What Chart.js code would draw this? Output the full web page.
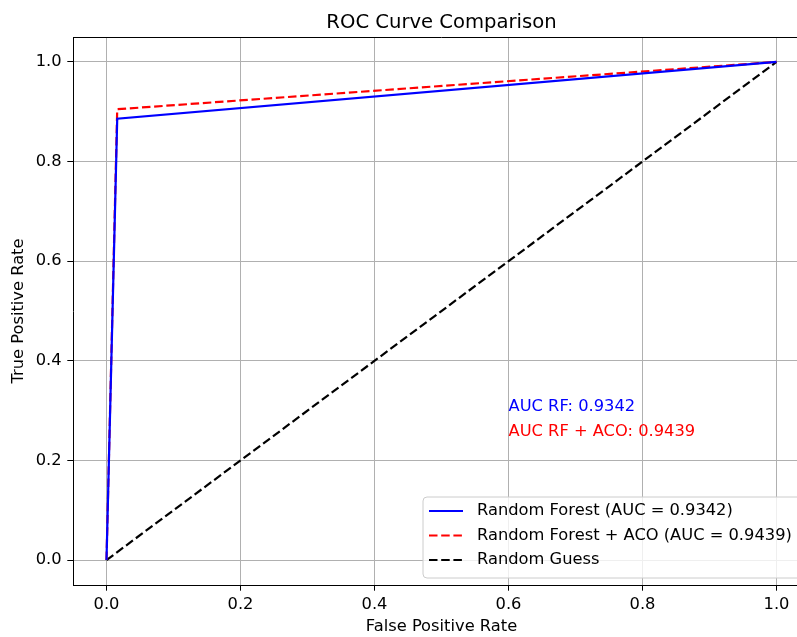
<!DOCTYPE html>
<html>
<head>
<meta charset="utf-8">
<script src="https://cdn.jsdelivr.net/npm/chart.js@4/dist/chart.umd.min.js"></script>
<style>
  html, body { margin: 0; padding: 0; overflow: hidden; background: #fff; }
  #wrap { width: 840px; height: 637px; }
</style>
</head>
<body>
<div id="wrap"><canvas id="roc"></canvas></div>
<script>
const fprRF = [0, 0.016, 1];
const tprRF = [0, 0.886, 1];
const fprACO = [0, 0.016, 1];
const tprACO = [0, 0.905, 1];
const fprGuess = [0, 1];
const tprGuess = [0, 1];
const tickVals = [0, 0.2, 0.4, 0.6, 0.8, 1.0];
const seriesNames = ['Random Forest (AUC = 0.9342)', 'Random Forest + ACO (AUC = 0.9439)', 'Random Guess'];
const noteTexts = ['AUC RF: 0.9342', 'AUC RF + ACO: 0.9439'];
const noteX = [0.6, 0.6];
const noteY = [0.3, 0.25];

const FONT = "'DejaVu Sans', sans-serif";
const FS = 16.3;

function pts(xs, ys) {
  return xs.map((x, i) => ({x: x, y: ys[i]}));
}

const extras = {
  id: 'extras',
  afterDatasetsDraw(chart) {
    const ctx = chart.ctx;
    const a = chart.chartArea;
    const xs = chart.scales.x, ys = chart.scales.y;
    ctx.save();
    // top spine
    ctx.strokeStyle = '#000';
    ctx.lineWidth = 1;
    ctx.beginPath();
    ctx.moveTo(a.left, a.top + 0.5);
    ctx.lineTo(a.right, a.top + 0.5);
    ctx.stroke();
    // title
    ctx.fillStyle = '#000';
    ctx.font = '19.6px ' + FONT;
    ctx.textAlign = 'center';
    ctx.textBaseline = 'alphabetic';
    ctx.fillText('ROC Curve Comparison', (a.left + a.right) / 2, a.top - 9.5);
    // notes
    ctx.font = FS + 'px ' + FONT;
    ctx.textAlign = 'left';
    const noteColors = ['#0000ff', '#ff0000'];
    noteTexts.forEach((t, i) => {
      ctx.fillStyle = noteColors[i];
      ctx.fillText(t, xs.getPixelForValue(noteX[i]), ys.getPixelForValue(noteY[i]));
    });
    // legend
    const bx = 423, by = 497, bw = 380, bh = 81, r = 4;
    ctx.beginPath();
    ctx.moveTo(bx + r, by);
    ctx.arcTo(bx + bw, by, bx + bw, by + bh, r);
    ctx.arcTo(bx + bw, by + bh, bx, by + bh, r);
    ctx.arcTo(bx, by + bh, bx, by, r);
    ctx.arcTo(bx, by, bx + bw, by, r);
    ctx.closePath();
    ctx.fillStyle = 'rgba(255,255,255,0.8)';
    ctx.fill();
    ctx.strokeStyle = '#cccccc';
    ctx.lineWidth = 1;
    ctx.stroke();
    chart.data.datasets.forEach((ds, i) => {
      const yy = 511 + i * 24.5;
      ctx.strokeStyle = ds.borderColor;
      ctx.lineWidth = ds.borderWidth;
      ctx.setLineDash(ds.borderDash || []);
      ctx.beginPath();
      ctx.moveTo(429, yy);
      ctx.lineTo(463, yy);
      ctx.stroke();
      ctx.setLineDash([]);
      ctx.fillStyle = '#000';
      ctx.textBaseline = 'middle';
      ctx.fillText(ds.label, 477, yy);
    });
    ctx.restore();
  }
};

const dash = [8.5, 3.7];

new Chart(document.getElementById('roc'), {
  type: 'scatter',
  data: {
    datasets: [
      {label: seriesNames[0], data: pts(fprRF, tprRF), showLine: true, borderColor: '#0000ff', borderWidth: 2.2, pointRadius: 0, tension: 0},
      {label: seriesNames[1], data: pts(fprACO, tprACO), showLine: true, borderColor: '#ff0000', borderWidth: 2.2, borderDash: dash, pointRadius: 0, tension: 0},
      {label: seriesNames[2], data: pts(fprGuess, tprGuess), showLine: true, borderColor: '#000000', borderWidth: 2.2, borderDash: dash, pointRadius: 0, tension: 0}
    ]
  },
  options: {
    responsive: true,
    maintainAspectRatio: false,
    animation: false,
    devicePixelRatio: 1,
    layout: { padding: {left: 0, top: 37, right: 30, bottom: 0} },
    plugins: { legend: {display: false}, title: {display: false}, tooltip: {enabled: false} },
    scales: {
      x: {
        type: 'linear', min: -0.05, max: 1.05,
        afterBuildTicks: s => { s.ticks = tickVals.map(v => ({value: v})); },
        afterFit: s => { s.height = 52; },
        grid: { color: '#b0b0b0', lineWidth: 1, tickColor: '#000', tickLength: 5.7 },
        border: { color: '#000', width: 1 },
        ticks: { color: '#000', padding: 4, maxRotation: 0, font: {family: FONT, size: FS}, callback: v => v.toFixed(1) },
        title: { display: true, text: 'False Positive Rate', color: '#000', padding: {top: 0, bottom: 0}, font: {family: FONT, size: FS} }
      },
      y: {
        type: 'linear', min: -0.05, max: 1.05,
        afterBuildTicks: s => { s.ticks = tickVals.map(v => ({value: v})); },
        afterFit: s => { s.width = 73; },
        grid: { color: '#b0b0b0', lineWidth: 1, tickColor: '#000', tickLength: 5.7 },
        border: { color: '#000', width: 1 },
        ticks: { color: '#000', padding: 5.7, font: {family: FONT, size: FS}, callback: v => v.toFixed(1) },
        title: { display: true, text: 'True Positive Rate', color: '#000', padding: {top: 9, bottom: 0}, font: {family: FONT, size: FS} }
      }
    }
  },
  plugins: [extras]
});
</script>
</body>
</html>
